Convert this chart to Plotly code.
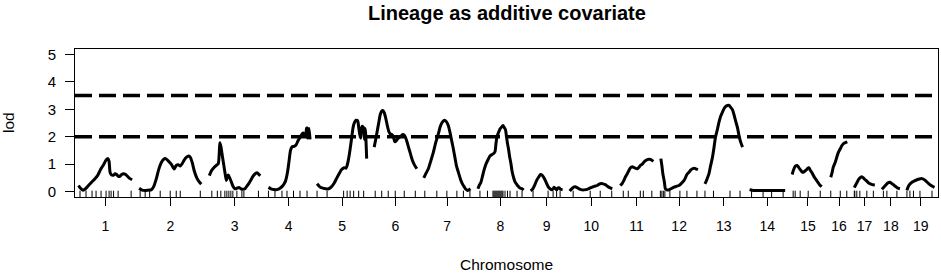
import plotly.graph_objects as go

# ---------------- data ----------------
chrom_names = [str(i) for i in range(1, 20)]
chrom_len = [107, 125, 103, 85, 100, 85, 93, 92, 64, 86, 67, 75, 75, 71, 63, 33, 41, 36, 55]
gap = 14
thresholds = [2.0, 3.5]

pos = {
    "1": [0, 4, 9, 14, 20, 26, 32, 38, 44, 50, 55, 59, 61, 63, 66, 70, 73, 76, 79, 82, 86, 90, 94, 98, 102, 107],
    "2": [0, 6, 12, 18, 24, 29, 34, 39, 44, 49, 53, 58, 64, 70, 74, 78, 82, 86, 90, 94, 99, 102, 106, 110, 115, 120, 124],
    "3": [1, 5, 10, 16, 19, 21, 22, 24, 27, 30, 33, 35, 37, 39, 42, 45, 48, 52, 56, 60, 64, 68, 72, 76, 80, 84, 88, 92, 97, 100, 103],
    "4": [2, 7, 13, 19, 25, 31, 36, 40, 43, 46, 49, 53, 57, 61, 65, 69, 72, 74, 76, 78, 79, 80, 82, 83, 85],
    "5": [0, 5, 10, 17, 23, 29, 34, 39, 44, 49, 54, 58, 60, 63, 66, 69, 72, 75, 78, 81, 83, 85, 87, 88, 90, 92, 94, 95, 96, 97, 99],
    "6": [0, 3, 6, 9, 12, 15, 17, 20, 23, 26, 29, 32, 35, 38, 41, 44, 48, 52, 57, 60, 64, 68, 72, 76, 80, 85],
    "7": [0, 4, 9, 14, 19, 24, 29, 33, 37, 41, 45, 49, 52, 56, 59, 62, 65, 69, 73, 77, 81, 84, 87, 90, 93],
    "8": [1, 3, 7, 10, 13, 17, 22, 25, 29, 32, 35, 37, 39, 42, 45, 48, 51, 53, 56, 58, 60, 62, 64, 67, 69, 72, 75, 80, 84, 89, 92],
    "9": [0, 4, 8, 12, 16, 20, 23, 26, 29, 32, 35, 39, 42, 45, 47, 50, 52, 54, 57, 60, 64],
    "10": [0, 4, 8, 11, 15, 19, 25, 29, 35, 39, 45, 49, 55, 59, 63, 67, 71, 75, 79, 85],
    "11": [1, 5, 8, 11, 15, 18, 21, 25, 28, 31, 35, 38, 41, 45, 48, 51, 55, 58, 61, 64, 67],
    "12": [1, 3, 5, 8, 10, 13, 17, 21, 27, 32, 37, 41, 47, 50, 53, 57, 60, 64, 68, 72, 75],
    "13": [0, 4, 8, 11, 15, 18, 21, 25, 28, 31, 35, 38, 41, 45, 48, 51, 55, 58, 61, 65, 68, 71, 75],
    "14": [0, 5, 13, 21, 31, 41, 51, 61, 71],
    "15": [0, 3, 6, 10, 13, 16, 19, 22, 25, 29, 31, 34, 36, 39, 42, 45, 49, 52, 55, 59],
    "16": [0, 3, 5, 9, 12, 15, 19, 22, 25, 29, 33],
    "17": [0, 3, 6, 9, 13, 15, 18, 21, 25, 28, 32, 36, 41],
    "18": [0, 3, 7, 11, 16, 19, 23, 26, 29, 32, 36],
    "19": [0, 2, 5, 10, 15, 20, 25, 30, 34, 37, 41, 45, 50, 55],
}

lod = {
    "1": [0.22, 0.12, 0.05, 0.1, 0.22, 0.34, 0.45, 0.58, 0.8, 0.98, 1.15, 1.2, 1.1, 0.7, 0.6, 0.6, 0.65, 0.62, 0.56, 0.55, 0.62, 0.65, 0.62, 0.55, 0.48, 0.43],
    "2": [0.12, 0.05, 0.04, 0.05, 0.06, 0.18, 0.45, 0.8, 1.05, 1.18, 1.2, 1.12, 1.0, 0.82, 0.95, 0.98, 0.93, 1.02, 1.15, 1.25, 1.3, 1.25, 1.05, 0.75, 0.5, 0.35, 0.27],
    "3": [0.58, 0.75, 0.87, 0.97, 1.02, 1.45, 1.78, 1.65, 1.3, 0.95, 0.6, 0.4, 0.55, 0.6, 0.48, 0.35, 0.2, 0.1, 0.12, 0.15, 0.1, 0.08, 0.1, 0.2, 0.3, 0.42, 0.55, 0.64, 0.68, 0.62, 0.58],
    "4": [0.15, 0.1, 0.07, 0.07, 0.12, 0.22, 0.38, 0.7, 1.1, 1.5, 1.63, 1.65, 1.7, 1.85, 1.97, 2.1, 2.13, 2.05, 2.02, 2.3, 2.32, 1.95, 2.25, 2.3, 1.9],
    "5": [0.28, 0.18, 0.13, 0.1, 0.1, 0.18, 0.3, 0.48, 0.65, 0.8, 0.87, 0.85, 0.95, 1.2, 1.55, 1.95, 2.35, 2.53, 2.6, 2.58, 2.35, 2.1, 1.95, 2.25, 2.38, 2.35, 2.05, 1.9, 2.3, 2.1, 1.2],
    "6": [1.62, 1.9, 2.2, 2.5, 2.8, 2.93, 2.96, 2.88, 2.68, 2.42, 2.2, 2.1, 2.08, 2.02, 1.82, 1.85, 1.95, 2.0, 2.08, 2.05, 1.9, 1.65, 1.4, 1.15, 0.98, 0.83],
    "7": [0.5, 0.65, 0.83, 1.12, 1.43, 1.8, 2.1, 2.38, 2.53, 2.6, 2.55, 2.4, 2.18, 1.82, 1.55, 1.25, 0.95, 0.7, 0.46, 0.28, 0.16, 0.08, 0.04, 0.06, 0.1],
    "8": [0.1, 0.2, 0.34, 0.55, 0.77, 1.0, 1.19, 1.3, 1.35, 1.38, 1.45, 1.75, 2.0, 2.15, 2.28, 2.35, 2.41, 2.35, 2.25, 2.0, 1.75, 1.55, 1.3, 1.0, 0.75, 0.52, 0.35, 0.22, 0.14, 0.1, 0.05],
    "9": [0.03, 0.08, 0.22, 0.4, 0.52, 0.62, 0.6, 0.52, 0.42, 0.3, 0.18, 0.1, 0.06, 0.1, 0.16, 0.1, 0.06, 0.12, 0.14, 0.08, 0.06],
    "10": [0.02, 0.1, 0.16, 0.17, 0.14, 0.1, 0.06, 0.06, 0.08, 0.11, 0.16, 0.19, 0.22, 0.27, 0.29, 0.28, 0.25, 0.2, 0.15, 0.1],
    "11": [0.22, 0.3, 0.4, 0.52, 0.65, 0.76, 0.86, 0.9, 0.88, 0.85, 0.83, 0.88, 0.95, 1.0, 1.07, 1.12, 1.16, 1.18, 1.17, 1.14, 1.1],
    "12": [1.2, 0.95, 0.65, 0.35, 0.1, 0.06, 0.06, 0.1, 0.16, 0.19, 0.22, 0.28, 0.4, 0.5, 0.62, 0.7, 0.77, 0.83, 0.85, 0.82, 0.8],
    "13": [0.28, 0.45, 0.65, 0.92, 1.25, 1.6, 1.98, 2.28, 2.53, 2.73, 2.9, 3.02, 3.1, 3.14, 3.14, 3.08, 2.98, 2.8, 2.59, 2.32, 2.04, 1.82, 1.62],
    "14": [0.07, 0.05, 0.04, 0.04, 0.04, 0.04, 0.04, 0.04, 0.04],
    "15": [0.62, 0.8, 0.92, 0.95, 0.88, 0.8, 0.73, 0.7, 0.74, 0.8, 0.85, 0.86, 0.78, 0.7, 0.6, 0.5, 0.4, 0.32, 0.24, 0.18],
    "16": [0.52, 0.72, 0.89, 1.07, 1.25, 1.42, 1.56, 1.67, 1.74, 1.78, 1.81],
    "17": [0.14, 0.25, 0.35, 0.45, 0.52, 0.54, 0.5, 0.44, 0.38, 0.32, 0.28, 0.25, 0.24],
    "18": [0.08, 0.14, 0.22, 0.3, 0.34, 0.3, 0.25, 0.2, 0.16, 0.12, 0.1],
    "19": [0.04, 0.15, 0.25, 0.34, 0.39, 0.43, 0.46, 0.47, 0.44, 0.4, 0.33, 0.26, 0.2, 0.15],
}

markers = {
    "1": [3, 15, 27, 35, 45, 55, 61, 65, 70, 79, 105],
    "2": [2, 12, 21, 42, 62, 74, 82, 122],
    "3": [6, 17, 24, 32, 36, 40, 44, 48, 56, 66, 70, 99],
    "4": [2, 15, 29, 39, 52, 65, 79],
    "5": [0, 20, 53, 60, 66, 73, 83, 93],
    "6": [2, 15, 28, 42, 60, 82],
    "7": [2, 26, 46, 66, 79, 92],
    "8": [5, 20, 31, 33, 35, 37, 39, 41, 43, 45, 47, 49, 51, 55, 60, 65, 79, 89],
    "9": [5, 35, 45, 52, 59],
    "10": [7, 41, 61, 84],
    "11": [7, 17, 41, 47, 64],
    "12": [0, 3, 6, 9, 19, 39, 53, 73],
    "13": [0, 17, 50, 70],
    "14": [4, 27, 44, 67],
    "15": [2, 6, 16, 32, 56],
    "16": [0, 19, 32],
    "17": [0, 1, 5, 11, 25, 38],
    "18": [3, 10, 30],
    "19": [0, 6, 13, 26, 50],
}

# ---------------- layout of chromosomes ----------------
starts = []
s = 0
for L in chrom_len:
    starts.append(s)
    s += L + gap
total_end = starts[-1] + chrom_len[-1]
mids = [st + L / 2 for st, L in zip(starts, chrom_len)]

FONT = "Liberation Sans, Arial, Helvetica, sans-serif"

fig = go.Figure()

for name, st in zip(chrom_names, starts):
    fig.add_trace(go.Scatter(
        x=[st + p for p in pos[name]], y=lod[name],
        mode="lines", line=dict(color="black", width=3, shape="spline", smoothing=0.6),
        showlegend=False, hoverinfo="skip"))

rug_x = []
for name, st in zip(chrom_names, starts):
    rug_x += [st + p for p in markers[name]]
fig.add_trace(go.Scatter(
    x=rug_x, y=[-0.2] * len(rug_x), mode="markers",
    marker=dict(symbol="line-ns", size=9, line=dict(color="black", width=1)),
    showlegend=False, hoverinfo="skip", cliponaxis=True))

for t in thresholds:
    fig.add_hline(y=t, line=dict(color="black", width=3.5, dash="17px,7px"))

fig.update_layout(
    width=941, height=274,
    margin=dict(l=75, r=3, t=49, b=77),
    paper_bgcolor="white", plot_bgcolor="white",
    font=dict(family=FONT, color="black", size=14),
    xaxis=dict(range=[-gap / 2, total_end + gap / 2], tickvals=mids, ticktext=chrom_names,
               ticks="outside", ticklen=8, tickwidth=1, tickcolor="black",
               showline=True, mirror=True, linecolor="black", linewidth=1,
               showgrid=False, zeroline=False, ticklabelstandoff=8,
               tickfont=dict(size=14)),
    yaxis=dict(range=[-0.2, 5.2], tickvals=[0, 1, 2, 3, 4, 5],
               ticks="outside", ticklen=9, tickwidth=1, tickcolor="black",
               showline=True, mirror=True, linecolor="black", linewidth=1,
               showgrid=False, zeroline=False, ticklabelstandoff=6,
               tickfont=dict(size=15)),
    annotations=[
        dict(text="<b>Lineage as additive covariate</b>", x=0.5, y=1.243, xref="paper", yref="paper",
             xanchor="center", yanchor="middle", showarrow=False, font=dict(size=20)),
        dict(text="Chromosome", x=0.5, y=-0.459, xref="paper", yref="paper",
             xanchor="center", yanchor="middle", showarrow=False, font=dict(size=15.5)),
        dict(text="lod", x=-0.0776, y=0.5, xref="paper", yref="paper", textangle=-90,
             xanchor="center", yanchor="middle", showarrow=False, font=dict(size=15.5)),
    ],
)

# remove the default page margin so the figure fills the 941x274 window exactly
fig.write_html("out.html", config={"displayModeBar": False},
               post_script="document.body.style.margin='0px';")
